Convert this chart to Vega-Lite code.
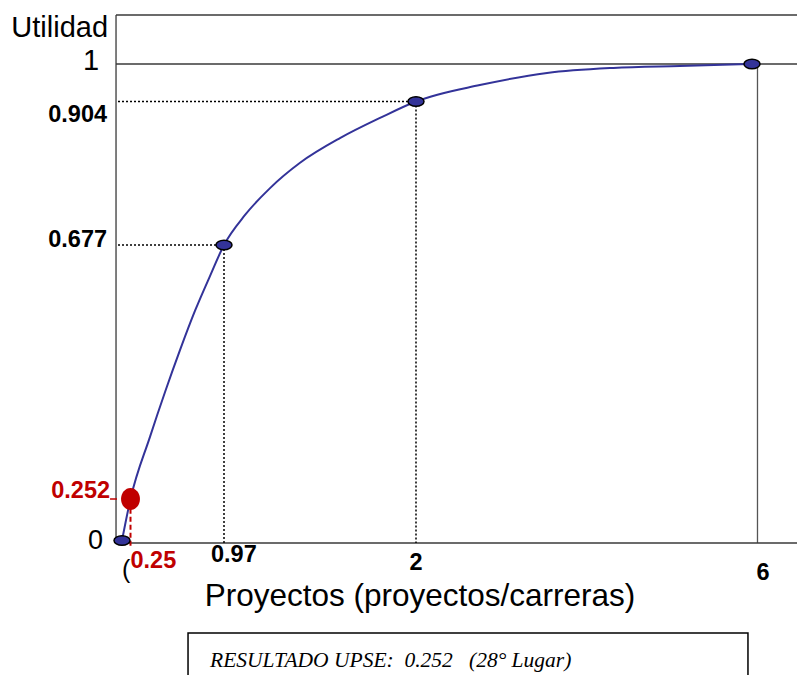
{
  "$schema": "https://vega.github.io/schema/vega-lite/v6.json",
  "width": 797,
  "height": 675,
  "padding": 0,
  "autosize": {"type": "none"},
  "background": "white",
  "config": {"view": {"stroke": null}, "font": "Liberation Sans"},
  "datasets": {
    "curve": [
      {"x": 0, "y": 0}, {"x": 0.25, "y": 0.252}, {"x": 0.4, "y": 0.356}, {"x": 0.516, "y": 0.431},
      {"x": 0.631, "y": 0.501}, {"x": 0.747, "y": 0.567}, {"x": 0.862, "y": 0.625}, {"x": 0.97, "y": 0.677},
      {"x": 1.083, "y": 0.7245}, {"x": 1.217, "y": 0.767}, {"x": 1.378, "y": 0.807}, {"x": 1.592, "y": 0.846},
      {"x": 1.807, "y": 0.878}, {"x": 2, "y": 0.904}, {"x": 2.76, "y": 0.946},
      {"x": 3.56, "y": 0.977}, {"x": 4.35, "y": 0.99}, {"x": 5.14, "y": 0.995}, {"x": 6, "y": 1}
    ],
    "pts": [{"x": 0, "y": 0}, {"x": 0.97, "y": 0.677}, {"x": 2, "y": 0.904}, {"x": 6, "y": 1}],
    "upse": [{"x": 0.25, "y": 0.252}],
    "yticks": [
      {"label": "1", "v": 1}, {"label": "0.904", "v": 0.904}, {"label": "0.677", "v": 0.677},
      {"label": "0.252", "v": 0.252}, {"label": "0", "v": 0}
    ],
    "xticks": [{"label": "0.25", "v": 0.25}, {"label": "0.97", "v": 0.97}, {"label": "2", "v": 2}, {"label": "6", "v": 6}],
    "one": [{"t": "RESULTADO UPSE:\u00a0 0.252 \u00a0 (28° Lugar)"}]
  },
  "layer": [
    {
      "data": {"name": "one"},
      "mark": {"type": "rule", "stroke": "#3a3a3a", "strokeWidth": 1.3},
      "encoding": {
        "x": {"datum": -0.049, "type": "quantitative", "axis": null, "scale": {"type": "linear", "domain": [-1, 0, 0.25, 0.97, 2, 6, 7], "range": [0, 122, 130.5, 224, 416, 752, 797], "nice": false, "zero": false}},
        "x2": {"datum": 7},
        "y": {"datum": 1.766, "type": "quantitative", "axis": null, "scale": {"type": "linear", "domain": [-1, 0, 0.252, 0.677, 0.904, 1, 2], "range": [675, 540.5, 499, 245, 101.5, 64, 0], "nice": false, "zero": false}}
      }
    },
    {
      "data": {"name": "one"},
      "mark": {"type": "rule", "stroke": "#3a3a3a", "strokeWidth": 1.3},
      "encoding": {
        "x": {"datum": -0.049, "type": "quantitative", "axis": null, "scale": {"type": "linear", "domain": [-1, 0, 0.25, 0.97, 2, 6, 7], "range": [0, 122, 130.5, 224, 416, 752, 797], "nice": false, "zero": false}},
        "x2": {"datum": 7},
        "y": {"datum": 1, "type": "quantitative", "axis": null, "scale": {"type": "linear", "domain": [-1, 0, 0.252, 0.677, 0.904, 1, 2], "range": [675, 540.5, 499, 245, 101.5, 64, 0], "nice": false, "zero": false}}
      }
    },
    {
      "data": {"name": "one"},
      "mark": {"type": "rule", "stroke": "#3a3a3a", "strokeWidth": 1.3},
      "encoding": {
        "x": {"datum": -0.049, "type": "quantitative", "axis": null, "scale": {"type": "linear", "domain": [-1, 0, 0.25, 0.97, 2, 6, 7], "range": [0, 122, 130.5, 224, 416, 752, 797], "nice": false, "zero": false}},
        "y": {"datum": 0, "type": "quantitative", "axis": null, "scale": {"type": "linear", "domain": [-1, 0, 0.252, 0.677, 0.904, 1, 2], "range": [675, 540.5, 499, 245, 101.5, 64, 0], "nice": false, "zero": false}},
        "y2": {"datum": 1.766}
      }
    },
    {
      "data": {"name": "one"},
      "mark": {"type": "rule", "stroke": "#555555", "strokeWidth": 1.3},
      "encoding": {
        "x": {"datum": 6.122, "type": "quantitative", "axis": null, "scale": {"type": "linear", "domain": [-1, 0, 0.25, 0.97, 2, 6, 7], "range": [0, 122, 130.5, 224, 416, 752, 797], "nice": false, "zero": false}},
        "y": {"datum": -0.0186, "type": "quantitative", "axis": null, "scale": {"type": "linear", "domain": [-1, 0, 0.252, 0.677, 0.904, 1, 2], "range": [675, 540.5, 499, 245, 101.5, 64, 0], "nice": false, "zero": false}},
        "y2": {"datum": 1}
      }
    },
    {
      "data": {"name": "one"},
      "mark": {"type": "rule", "stroke": "#3a3a3a", "strokeWidth": 1.3},
      "encoding": {
        "x": {"datum": 0.18, "type": "quantitative", "axis": null, "scale": {"type": "linear", "domain": [-1, 0, 0.25, 0.97, 2, 6, 7], "range": [0, 122, 130.5, 224, 416, 752, 797], "nice": false, "zero": false}},
        "x2": {"datum": 7},
        "y": {"datum": -0.0186, "type": "quantitative", "axis": null, "scale": {"type": "linear", "domain": [-1, 0, 0.252, 0.677, 0.904, 1, 2], "range": [675, 540.5, 499, 245, 101.5, 64, 0], "nice": false, "zero": false}}
      }
    },
    {
      "data": {"name": "pts"},
      "transform": [{"filter": "datum.x > 0 && datum.x < 6"}],
      "mark": {"type": "rule", "stroke": "black", "strokeWidth": 1.5, "strokeDash": [2, 2]},
      "encoding": {
        "x": {"field": "x", "type": "quantitative", "axis": null, "scale": {"type": "linear", "domain": [-1, 0, 0.25, 0.97, 2, 6, 7], "range": [0, 122, 130.5, 224, 416, 752, 797], "nice": false, "zero": false}},
        "x2": {"datum": -0.049},
        "y": {"field": "y", "type": "quantitative", "axis": null, "scale": {"type": "linear", "domain": [-1, 0, 0.252, 0.677, 0.904, 1, 2], "range": [675, 540.5, 499, 245, 101.5, 64, 0], "nice": false, "zero": false}}
      }
    },
    {
      "data": {"name": "pts"},
      "transform": [{"filter": "datum.x > 0 && datum.x < 6"}],
      "mark": {"type": "rule", "stroke": "black", "strokeWidth": 1.5, "strokeDash": [2, 2]},
      "encoding": {
        "x": {"field": "x", "type": "quantitative", "axis": null, "scale": {"type": "linear", "domain": [-1, 0, 0.25, 0.97, 2, 6, 7], "range": [0, 122, 130.5, 224, 416, 752, 797], "nice": false, "zero": false}},
        "y": {"field": "y", "type": "quantitative", "axis": null, "scale": {"type": "linear", "domain": [-1, 0, 0.252, 0.677, 0.904, 1, 2], "range": [675, 540.5, 499, 245, 101.5, 64, 0], "nice": false, "zero": false}},
        "y2": {"datum": -0.0186}
      }
    },
    {
      "data": {"name": "upse"},
      "mark": {"type": "rule", "stroke": "#c00000", "strokeWidth": 2, "strokeDash": [5, 3]},
      "encoding": {
        "x": {"field": "x", "type": "quantitative", "axis": null, "scale": {"type": "linear", "domain": [-1, 0, 0.25, 0.97, 2, 6, 7], "range": [0, 122, 130.5, 224, 416, 752, 797], "nice": false, "zero": false}},
        "y": {"datum": 0.242, "type": "quantitative", "axis": null, "scale": {"type": "linear", "domain": [-1, 0, 0.252, 0.677, 0.904, 1, 2], "range": [675, 540.5, 499, 245, 101.5, 64, 0], "nice": false, "zero": false}},
        "y2": {"datum": -0.056}
      }
    },
    {
      "data": {"name": "upse"},
      "mark": {"type": "rule", "stroke": "#c00000", "strokeWidth": 1.5},
      "encoding": {
        "x": {"datum": -0.098, "type": "quantitative", "axis": null, "scale": {"type": "linear", "domain": [-1, 0, 0.25, 0.97, 2, 6, 7], "range": [0, 122, 130.5, 224, 416, 752, 797], "nice": false, "zero": false}},
        "x2": {"datum": -0.041},
        "y": {"field": "y", "type": "quantitative", "axis": null, "scale": {"type": "linear", "domain": [-1, 0, 0.252, 0.677, 0.904, 1, 2], "range": [675, 540.5, 499, 245, 101.5, 64, 0], "nice": false, "zero": false}}
      }
    },
    {
      "data": {"name": "curve"},
      "mark": {"type": "line", "stroke": "#333399", "strokeWidth": 2, "interpolate": "monotone"},
      "encoding": {
        "x": {"field": "x", "type": "quantitative", "axis": null, "scale": {"type": "linear", "domain": [-1, 0, 0.25, 0.97, 2, 6, 7], "range": [0, 122, 130.5, 224, 416, 752, 797], "nice": false, "zero": false}},
        "y": {"field": "y", "type": "quantitative", "axis": null, "scale": {"type": "linear", "domain": [-1, 0, 0.252, 0.677, 0.904, 1, 2], "range": [675, 540.5, 499, 245, 101.5, 64, 0], "nice": false, "zero": false}}
      }
    },
    {
      "data": {"name": "pts"},
      "mark": {"type": "point", "filled": true, "fill": "#333399", "stroke": "black", "strokeWidth": 1.5, "opacity": 1, "size": 256, "shape": "M-1,0A1,0.6,0,1,1,1,0A1,0.6,0,1,1,-1,0Z"},
      "encoding": {
        "x": {"field": "x", "type": "quantitative", "axis": null, "scale": {"type": "linear", "domain": [-1, 0, 0.25, 0.97, 2, 6, 7], "range": [0, 122, 130.5, 224, 416, 752, 797], "nice": false, "zero": false}},
        "y": {"field": "y", "type": "quantitative", "axis": null, "scale": {"type": "linear", "domain": [-1, 0, 0.252, 0.677, 0.904, 1, 2], "range": [675, 540.5, 499, 245, 101.5, 64, 0], "nice": false, "zero": false}}
      }
    },
    {
      "data": {"name": "upse"},
      "mark": {"type": "point", "filled": true, "fill": "#c00000", "strokeWidth": 0, "opacity": 1, "size": 484, "shape": "M-0.86,0A0.86,1,0,1,1,0.86,0A0.86,1,0,1,1,-0.86,0Z"},
      "encoding": {
        "x": {"field": "x", "type": "quantitative", "axis": null, "scale": {"type": "linear", "domain": [-1, 0, 0.25, 0.97, 2, 6, 7], "range": [0, 122, 130.5, 224, 416, 752, 797], "nice": false, "zero": false}},
        "y": {"field": "y", "type": "quantitative", "axis": null, "scale": {"type": "linear", "domain": [-1, 0, 0.252, 0.677, 0.904, 1, 2], "range": [675, 540.5, 499, 245, 101.5, 64, 0], "nice": false, "zero": false}}
      }
    },
    {
      "data": {"name": "one"},
      "mark": {"type": "text", "text": "Utilidad", "fontSize": 29, "align": "right", "baseline": "alphabetic", "dx": -8, "dy": 22, "color": "black"},
      "encoding": {
        "x": {"datum": -0.049, "type": "quantitative", "axis": null, "scale": {"type": "linear", "domain": [-1, 0, 0.25, 0.97, 2, 6, 7], "range": [0, 122, 130.5, 224, 416, 752, 797], "nice": false, "zero": false}},
        "y": {"datum": 1.766, "type": "quantitative", "axis": null, "scale": {"type": "linear", "domain": [-1, 0, 0.252, 0.677, 0.904, 1, 2], "range": [675, 540.5, 499, 245, 101.5, 64, 0], "nice": false, "zero": false}}
      }
    },
    {
      "data": {"name": "yticks"},
      "transform": [{"filter": "datum.label == '1'"}],
      "mark": {"type": "text", "fontSize": 29, "align": "right", "baseline": "alphabetic", "dx": -17, "dy": 6, "color": "black"},
      "encoding": {
        "text": {"field": "label"},
        "x": {"datum": -0.049, "type": "quantitative", "axis": null, "scale": {"type": "linear", "domain": [-1, 0, 0.25, 0.97, 2, 6, 7], "range": [0, 122, 130.5, 224, 416, 752, 797], "nice": false, "zero": false}},
        "y": {"field": "v", "type": "quantitative", "axis": null, "scale": {"type": "linear", "domain": [-1, 0, 0.252, 0.677, 0.904, 1, 2], "range": [675, 540.5, 499, 245, 101.5, 64, 0], "nice": false, "zero": false}}
      }
    },
    {
      "data": {"name": "yticks"},
      "transform": [{"filter": "datum.label == '0'"}],
      "mark": {"type": "text", "fontSize": 27, "align": "right", "baseline": "alphabetic", "dx": -13, "dy": 8, "color": "black"},
      "encoding": {
        "text": {"field": "label"},
        "x": {"datum": -0.049, "type": "quantitative", "axis": null, "scale": {"type": "linear", "domain": [-1, 0, 0.25, 0.97, 2, 6, 7], "range": [0, 122, 130.5, 224, 416, 752, 797], "nice": false, "zero": false}},
        "y": {"field": "v", "type": "quantitative", "axis": null, "scale": {"type": "linear", "domain": [-1, 0, 0.252, 0.677, 0.904, 1, 2], "range": [675, 540.5, 499, 245, 101.5, 64, 0], "nice": false, "zero": false}}
      }
    },
    {
      "data": {"name": "yticks"},
      "transform": [{"filter": "datum.label == '0.904'"}],
      "mark": {"type": "text", "fontSize": 23.5, "fontWeight": "bold", "align": "right", "baseline": "alphabetic", "dx": -9, "dy": 20, "color": "black"},
      "encoding": {
        "text": {"field": "label"},
        "x": {"datum": -0.049, "type": "quantitative", "axis": null, "scale": {"type": "linear", "domain": [-1, 0, 0.25, 0.97, 2, 6, 7], "range": [0, 122, 130.5, 224, 416, 752, 797], "nice": false, "zero": false}},
        "y": {"field": "v", "type": "quantitative", "axis": null, "scale": {"type": "linear", "domain": [-1, 0, 0.252, 0.677, 0.904, 1, 2], "range": [675, 540.5, 499, 245, 101.5, 64, 0], "nice": false, "zero": false}}
      }
    },
    {
      "data": {"name": "yticks"},
      "transform": [{"filter": "datum.label == '0.677'"}],
      "mark": {"type": "text", "fontSize": 23.5, "fontWeight": "bold", "align": "right", "baseline": "alphabetic", "dx": -9, "dy": 2, "color": "black"},
      "encoding": {
        "text": {"field": "label"},
        "x": {"datum": -0.049, "type": "quantitative", "axis": null, "scale": {"type": "linear", "domain": [-1, 0, 0.25, 0.97, 2, 6, 7], "range": [0, 122, 130.5, 224, 416, 752, 797], "nice": false, "zero": false}},
        "y": {"field": "v", "type": "quantitative", "axis": null, "scale": {"type": "linear", "domain": [-1, 0, 0.252, 0.677, 0.904, 1, 2], "range": [675, 540.5, 499, 245, 101.5, 64, 0], "nice": false, "zero": false}}
      }
    },
    {
      "data": {"name": "yticks"},
      "transform": [{"filter": "datum.label == '0.252'"}],
      "mark": {"type": "text", "fontSize": 23.5, "fontWeight": "bold", "align": "right", "baseline": "alphabetic", "dx": -6, "dy": -1, "color": "#c00000"},
      "encoding": {
        "text": {"field": "label"},
        "x": {"datum": -0.049, "type": "quantitative", "axis": null, "scale": {"type": "linear", "domain": [-1, 0, 0.25, 0.97, 2, 6, 7], "range": [0, 122, 130.5, 224, 416, 752, 797], "nice": false, "zero": false}},
        "y": {"field": "v", "type": "quantitative", "axis": null, "scale": {"type": "linear", "domain": [-1, 0, 0.252, 0.677, 0.904, 1, 2], "range": [675, 540.5, 499, 245, 101.5, 64, 0], "nice": false, "zero": false}}
      }
    },
    {
      "data": {"name": "one"},
      "mark": {"type": "text", "text": "(", "fontSize": 25, "align": "left", "baseline": "alphabetic", "dx": 0, "dy": 35, "color": "black"},
      "encoding": {
        "x": {"datum": 0, "type": "quantitative", "axis": null, "scale": {"type": "linear", "domain": [-1, 0, 0.25, 0.97, 2, 6, 7], "range": [0, 122, 130.5, 224, 416, 752, 797], "nice": false, "zero": false}},
        "y": {"datum": -0.0186, "type": "quantitative", "axis": null, "scale": {"type": "linear", "domain": [-1, 0, 0.252, 0.677, 0.904, 1, 2], "range": [675, 540.5, 499, 245, 101.5, 64, 0], "nice": false, "zero": false}}
      }
    },
    {
      "data": {"name": "xticks"},
      "transform": [{"filter": "datum.label == '0.25'"}],
      "mark": {"type": "text", "fontSize": 23.5, "fontWeight": "bold", "align": "left", "baseline": "alphabetic", "dx": 0, "dy": 25, "color": "#c00000"},
      "encoding": {
        "text": {"field": "label"},
        "x": {"field": "v", "type": "quantitative", "axis": null, "scale": {"type": "linear", "domain": [-1, 0, 0.25, 0.97, 2, 6, 7], "range": [0, 122, 130.5, 224, 416, 752, 797], "nice": false, "zero": false}},
        "y": {"datum": -0.0186, "type": "quantitative", "axis": null, "scale": {"type": "linear", "domain": [-1, 0, 0.252, 0.677, 0.904, 1, 2], "range": [675, 540.5, 499, 245, 101.5, 64, 0], "nice": false, "zero": false}}
      }
    },
    {
      "data": {"name": "xticks"},
      "transform": [{"filter": "datum.label == '0.97'"}],
      "mark": {"type": "text", "fontSize": 23.5, "fontWeight": "bold", "align": "left", "baseline": "alphabetic", "dx": -13, "dy": 19, "color": "black"},
      "encoding": {
        "text": {"field": "label"},
        "x": {"field": "v", "type": "quantitative", "axis": null, "scale": {"type": "linear", "domain": [-1, 0, 0.25, 0.97, 2, 6, 7], "range": [0, 122, 130.5, 224, 416, 752, 797], "nice": false, "zero": false}},
        "y": {"datum": -0.0186, "type": "quantitative", "axis": null, "scale": {"type": "linear", "domain": [-1, 0, 0.252, 0.677, 0.904, 1, 2], "range": [675, 540.5, 499, 245, 101.5, 64, 0], "nice": false, "zero": false}}
      }
    },
    {
      "data": {"name": "xticks"},
      "transform": [{"filter": "datum.label == '2'"}],
      "mark": {"type": "text", "fontSize": 23.5, "fontWeight": "bold", "align": "center", "baseline": "alphabetic", "dx": 0, "dy": 27, "color": "black"},
      "encoding": {
        "text": {"field": "label"},
        "x": {"field": "v", "type": "quantitative", "axis": null, "scale": {"type": "linear", "domain": [-1, 0, 0.25, 0.97, 2, 6, 7], "range": [0, 122, 130.5, 224, 416, 752, 797], "nice": false, "zero": false}},
        "y": {"datum": -0.0186, "type": "quantitative", "axis": null, "scale": {"type": "linear", "domain": [-1, 0, 0.252, 0.677, 0.904, 1, 2], "range": [675, 540.5, 499, 245, 101.5, 64, 0], "nice": false, "zero": false}}
      }
    },
    {
      "data": {"name": "xticks"},
      "transform": [{"filter": "datum.label == '6'"}],
      "mark": {"type": "text", "fontSize": 23.5, "fontWeight": "bold", "align": "center", "baseline": "alphabetic", "dx": 11, "dy": 37, "color": "black"},
      "encoding": {
        "text": {"field": "label"},
        "x": {"field": "v", "type": "quantitative", "axis": null, "scale": {"type": "linear", "domain": [-1, 0, 0.25, 0.97, 2, 6, 7], "range": [0, 122, 130.5, 224, 416, 752, 797], "nice": false, "zero": false}},
        "y": {"datum": -0.0186, "type": "quantitative", "axis": null, "scale": {"type": "linear", "domain": [-1, 0, 0.252, 0.677, 0.904, 1, 2], "range": [675, 540.5, 499, 245, 101.5, 64, 0], "nice": false, "zero": false}}
      }
    },
    {
      "data": {"name": "one"},
      "mark": {"type": "text", "text": "Proyectos (proyectos/carreras)", "fontSize": 31.5, "align": "center", "baseline": "alphabetic", "dx": 4, "dy": 63, "color": "black"},
      "encoding": {
        "x": {"datum": 2, "type": "quantitative", "axis": null, "scale": {"type": "linear", "domain": [-1, 0, 0.25, 0.97, 2, 6, 7], "range": [0, 122, 130.5, 224, 416, 752, 797], "nice": false, "zero": false}},
        "y": {"datum": -0.0186, "type": "quantitative", "axis": null, "scale": {"type": "linear", "domain": [-1, 0, 0.252, 0.677, 0.904, 1, 2], "range": [675, 540.5, 499, 245, 101.5, 64, 0], "nice": false, "zero": false}}
      }
    },
    {
      "data": {"name": "one"},
      "mark": {"type": "rect", "fill": "white", "stroke": "black", "strokeWidth": 1.5},
      "encoding": {
        "x": {"datum": 0.693, "type": "quantitative", "axis": null, "scale": {"type": "linear", "domain": [-1, 0, 0.25, 0.97, 2, 6, 7], "range": [0, 122, 130.5, 224, 416, 752, 797], "nice": false, "zero": false}},
        "x2": {"datum": 5.952},
        "y": {"datum": -0.688, "type": "quantitative", "axis": null, "scale": {"type": "linear", "domain": [-1, 0, 0.252, 0.677, 0.904, 1, 2], "range": [675, 540.5, 499, 245, 101.5, 64, 0], "nice": false, "zero": false}},
        "y2": {"datum": -1.2}
      }
    },
    {
      "data": {"name": "one"},
      "mark": {"type": "text", "font": "Liberation Serif", "fontStyle": "italic", "fontSize": 21.5, "align": "left", "baseline": "alphabetic", "dx": 22, "dy": 34, "color": "black"},
      "encoding": {
        "text": {"field": "t"},
        "x": {"datum": 0.693, "type": "quantitative", "axis": null, "scale": {"type": "linear", "domain": [-1, 0, 0.25, 0.97, 2, 6, 7], "range": [0, 122, 130.5, 224, 416, 752, 797], "nice": false, "zero": false}},
        "y": {"datum": -0.688, "type": "quantitative", "axis": null, "scale": {"type": "linear", "domain": [-1, 0, 0.252, 0.677, 0.904, 1, 2], "range": [675, 540.5, 499, 245, 101.5, 64, 0], "nice": false, "zero": false}}
      }
    }
  ]
}
